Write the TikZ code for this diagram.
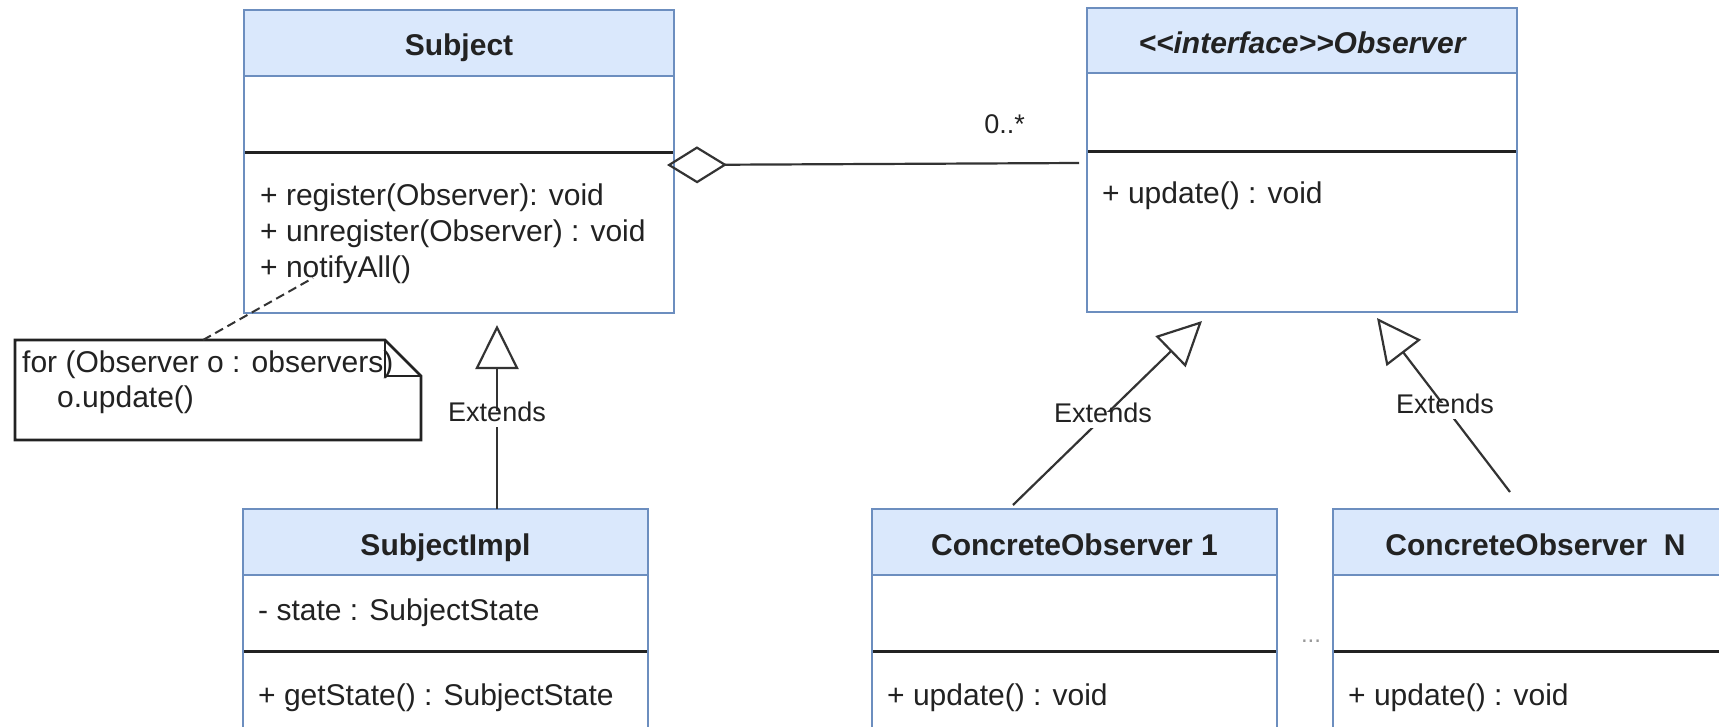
\documentclass[tikz,border=0pt]{standalone}
\usepackage{fontspec}
\setmainfont{Liberation Sans}
\usetikzlibrary{arrows.meta}
\definecolor{hdr}{HTML}{DAE8FC}
\definecolor{bdr}{HTML}{6C8EBF}
\definecolor{ink}{HTML}{222222}
\definecolor{conn}{HTML}{333333}
\definecolor{dots}{HTML}{999999}
\begin{document}
\begin{tikzpicture}[x=1pt,y=-1pt,
  classbox/.style={draw=bdr, line width=2.5pt, fill=white, inner sep=0pt, outer sep=0pt, anchor=north west},
  bdrline/.style={draw=bdr, line width=2.5pt},
  sepline/.style={draw=ink, line width=3pt},
  txt/.style={inner sep=0pt, anchor=base west, text=ink, font=\fontsize{30}{36}\selectfont},
  ttl/.style={inner sep=0pt, anchor=base, text=ink, font=\fontsize{30}{36}\selectfont\bfseries},
  conline/.style={draw=conn, line width=2.2pt},
  inh/.style={conline, -{Triangle[open, length=44pt, width=43pt, line width=2.2pt]}},
  agg/.style={conline, {Diamond[open, length=60pt, width=37pt, line width=2.2pt]}-},
  lbl/.style={fill=white, text=ink, font=\fontsize{27}{32}\selectfont, inner sep=3pt, text height=0.75em, text depth=0.2em},
  notebox/.style={draw=ink, line width=2.8pt, fill=white, line join=miter},
]
\useasboundingbox (0,0) rectangle (1719,726);
\clip (0,0) rectangle (1719,726);
\fill[white] (0,0) rectangle (1719,726);

% ---------- Subject ----------
\node[classbox, minimum width=430pt, minimum height=303pt] (subject) at (244,10) {};
\fill[hdr] (244,10) rectangle (674,76);
\draw[bdrline] (244,76) -- (674,76);
\draw[sepline] (244,152) -- (674,152);
\draw[bdrline] (subject.north west) rectangle (subject.south east);
\node[ttl] (subjectT) at (459,55) {Subject};
\node[txt] (subjectM1) at (260,205) {+ register(Observer): void};
\node[txt] (subjectM2) at (260,241) {+ unregister(Observer) : void};
\node[txt] (subjectM3) at (260,277) {+ notifyAll()};

% ---------- Observer ----------
\node[classbox, minimum width=430pt, minimum height=304pt] (observer) at (1087,8) {};
\fill[hdr] (1087,8) rectangle (1517,73);
\draw[bdrline] (1087,73) -- (1517,73);
\draw[sepline] (1087,151) -- (1517,151);
\draw[bdrline] (observer.north west) rectangle (observer.south east);
\node[ttl, font=\fontsize{30}{36}\selectfont\bfseries\itshape] (observerT) at (1302,53) {<\kern0pt<interface>\kern0pt>Observer};
\node[txt] (observerM1) at (1102,203) {+ update() : void};

% ---------- SubjectImpl ----------
\node[classbox, minimum width=405pt, minimum height=270pt] (impl) at (243,509) {};
\fill[hdr] (243,509) rectangle (648,575);
\draw[bdrline] (243,575) -- (648,575);
\draw[sepline] (243,651) -- (648,651);
\draw[bdrline] (impl.north west) rectangle (impl.south east);
\node[ttl] (implT) at (445.5,555) {SubjectImpl};
\node[txt] (implA1) at (258,620) {- state : SubjectState};
\node[txt] (implM1) at (258,705) {+ getState() : SubjectState};

% ---------- ConcreteObserver 1 ----------
\node[classbox, minimum width=405pt, minimum height=270pt] (co1) at (872,509) {};
\fill[hdr] (872,509) rectangle (1277,575);
\draw[bdrline] (872,575) -- (1277,575);
\draw[sepline] (872,651) -- (1277,651);
\draw[bdrline] (co1.north west) rectangle (co1.south east);
\node[ttl] (co1T) at (1074.5,555) {ConcreteObserver 1};
\node[txt] (co1M1) at (887,705) {+ update() : void};

% ---------- ConcreteObserver N ----------
\node[classbox, minimum width=405pt, minimum height=270pt] (con) at (1333,509) {};
\fill[hdr] (1333,509) rectangle (1738,575);
\draw[bdrline] (1333,575) -- (1738,575);
\draw[sepline] (1333,651) -- (1738,651);
\draw[bdrline] (con.north west) rectangle (con.south east);
\node[ttl] (conT) at (1535.5,555) {ConcreteObserver\ \ N};
\node[txt] (conM1) at (1348,705) {+ update() : void};

\node[text=dots, inner sep=0pt, anchor=base, font=\fontsize{24}{28}\selectfont] (ellip) at (1311,642) {...};

% ---------- Note ----------
\coordinate (noteNW) at (15,340);
\coordinate (noteSE) at (421,440);
\path[notebox] (noteNW) -- (385,340) -- (421,376) -- (noteSE) -- (15,440) -- cycle;
\draw[notebox, fill=none] (385,340) -- (385,376) -- (421,376);
\node[txt] (noteL1) at (22,372) {for (Observer o : observers)};
\node[txt] (noteL2) at (57,407) {o.update()};

% ---------- Connectors ----------
\coordinate (noteTop) at (203,340);
\coordinate (dashEnd) at (313,278);
\draw[conline, line width=2pt, dash pattern=on 9pt off 5pt] (noteTop) -- (dashEnd);

\coordinate (aggS) at (667,165);
\coordinate (aggO) at (1079,163);
\draw[agg] (aggS) -- (aggO);
\node[text=ink, inner sep=0pt, anchor=base east, font=\fontsize{27}{32}\selectfont] (mult) at (1025,133) {0..*};

\coordinate (i1s) at (497,509);
\coordinate (i1t) at (497,325);
\draw[inh] (i1s) -- (i1t);
\node[lbl] (ext1) at (497,419) {Extends};

\coordinate (c1s) at (1013,505);
\coordinate (c1t) at (1202,321);
\draw[inh] (c1s) -- (c1t);
\node[lbl] (ext2) at (1103,420) {Extends};

\coordinate (cns) at (1510,492);
\coordinate (cnt) at (1377,318);
\draw[inh] (cns) -- (cnt);
\node[lbl] (ext3) at (1445,411) {Extends};
\end{tikzpicture}
\end{document}
